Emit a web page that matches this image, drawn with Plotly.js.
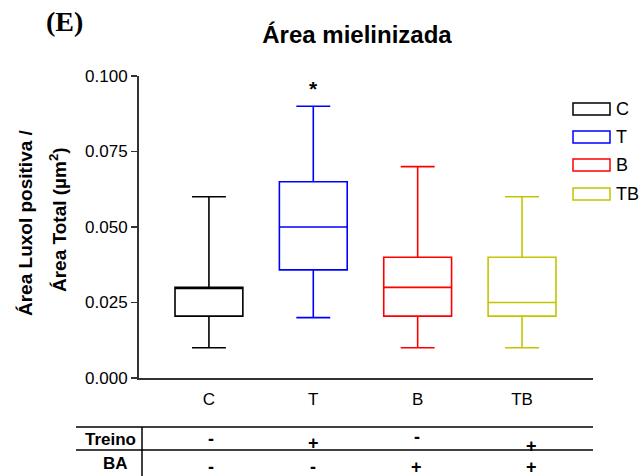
<!DOCTYPE html>
<html>
<head>
<meta charset="utf-8">
<script src="https://cdn.plot.ly/plotly-3.0.1.min.js"></script>
<style>html,body{margin:0;padding:0;background:#fff;}#chart{width:643px;height:476px;}</style>
</head>
<body>
<div id="chart"></div>
<script>
// ---- data ----
var groups = ["C", "T", "B", "TB"];
var colors = ["#000000", "#0000FF", "#FF0000", "#C4C400"];
var lowerWhisker = [0.010, 0.020, 0.010, 0.010];
var q1 = [0.0205, 0.0358, 0.0205, 0.0205];
var median = [0.030, 0.050, 0.030, 0.025];
var q3 = [0.030, 0.065, 0.040, 0.040];
var upperWhisker = [0.060, 0.090, 0.070, 0.060];
var treinoRow = ["-", "+", "-", "+"];
var baRow = ["-", "-", "+", "+"];
var rowLabels = ["Treino", "BA"];
var yTicks = [0, 0.025, 0.05, 0.075, 0.1];

// ---- layout geometry (pixels) ----
var W = 643, H = 476;
var M = {l: 139, r: 50, t: 76, b: 98};
var PW = W - M.l - M.r, PH = H - M.t - M.b;
function px(x) { return (x - M.l) / PW; }
function py(y) { return (H - M.b - y) / PH; }

var font = "Liberation Sans, Arial, sans-serif";

var traces = groups.map(function (g, i) {
  return {
    type: "box",
    name: g,
    x: [i],
    q1: [q1[i]],
    median: [median[i]],
    q3: [q3[i]],
    lowerfence: [lowerWhisker[i]],
    upperfence: [upperWhisker[i]],
    width: 0.65,
    whiskerwidth: 0.5,
    line: {color: colors[i], width: 1.6},
    fillcolor: "rgba(0,0,0,0)",
    showlegend: false,
    hoverinfo: "skip"
  };
});

var shapes = [];
var annotations = [];

// legend
var legY = [109, 137, 165, 194];
groups.forEach(function (g, i) {
  shapes.push({type: "rect", xref: "paper", yref: "paper",
    x0: px(573), x1: px(610), y0: py(legY[i] + 6), y1: py(legY[i] - 6),
    line: {color: colors[i], width: 1.5}, fillcolor: "rgba(0,0,0,0)"});
  annotations.push({xref: "paper", yref: "paper", x: px(614), y: py(legY[i]),
    xanchor: "left", yanchor: "middle", text: g, showarrow: false,
    font: {family: font, size: 18, color: "#000"}});
});

// significance marker
annotations.push({xref: "x", yref: "y", x: 1, y: upperWhisker[1], yshift: 18,
  text: "<b>*</b>", showarrow: false, font: {family: font, size: 21, color: "#000"}});

// panel label
annotations.push({xref: "paper", yref: "paper", x: px(44), y: py(22), xanchor: "left", yanchor: "middle",
  text: "<b>(E)</b>", showarrow: false, font: {family: "Liberation Serif, Times New Roman, serif", size: 28, color: "#000"}});

// y-axis title (two lines)
annotations.push({xref: "paper", yref: "paper", x: px(25), y: py(223), textangle: -90,
  text: "<b>Área Luxol positiva /</b>", showarrow: false, xanchor: "center", yanchor: "middle",
  font: {family: font, size: 19, color: "#000"}});
annotations.push({xref: "paper", yref: "paper", x: px(58), y: py(220), textangle: -90,
  text: "<b>Área Total (µm<sup>2</sup>)</b>", showarrow: false, xanchor: "center", yanchor: "middle",
  font: {family: font, size: 19, color: "#000"}});

// table
shapes.push({type: "line", xref: "paper", yref: "paper", x0: px(76), x1: px(593), y0: py(427), y1: py(427), line: {color: "#000", width: 1.5}});
shapes.push({type: "line", xref: "paper", yref: "paper", x0: px(76), x1: px(593), y0: py(450), y1: py(450), line: {color: "#000", width: 1.5}});
shapes.push({type: "line", xref: "paper", yref: "paper", x0: px(142), x1: px(142), y0: py(427), y1: py(476), line: {color: "#000", width: 1.5}});
annotations.push({xref: "paper", yref: "paper", x: px(138), y: py(439), xanchor: "right", yanchor: "middle",
  text: "<b>" + rowLabels[0] + "</b>", showarrow: false, font: {family: font, size: 17, color: "#000"}});
annotations.push({xref: "paper", yref: "paper", x: px(115), y: py(464), xanchor: "center", yanchor: "middle",
  text: "<b>" + rowLabels[1] + "</b>", showarrow: false, font: {family: font, size: 17, color: "#000"}});
var signShift = [2, 0, -1, 9];
var row1Y = [439, 443, 437, 446];
groups.forEach(function (g, i) {
  annotations.push({xref: "x", yref: "paper", x: i, xshift: signShift[i], y: py(row1Y[i]), yanchor: "middle",
    text: "<b>" + treinoRow[i] + "</b>", showarrow: false, font: {family: font, size: 18, color: "#000"}});
  annotations.push({xref: "x", yref: "paper", x: i, xshift: signShift[i], y: py(467), yanchor: "middle",
    text: "<b>" + baRow[i] + "</b>", showarrow: false, font: {family: font, size: 18, color: "#000"}});
});

var layout = {
  width: W, height: H,
  margin: M,
  paper_bgcolor: "#fff", plot_bgcolor: "#fff",
  font: {family: font, color: "#000"},
  title: {text: "<b>Área mielinizada</b>", font: {family: font, size: 24, color: "#000"},
    xref: "paper", x: px(357), xanchor: "center", yref: "container", y: 1 - 35 / H, yanchor: "middle"},
  xaxis: {
    range: [-0.67, 3.68], tickmode: "array", tickvals: [0, 1, 2, 3], ticktext: groups,
    showline: true, linecolor: "#333", linewidth: 2, ticks: "", showgrid: false, zeroline: false,
    tickfont: {family: font, size: 17, color: "#000"}, ticklabelstandoff: 5, fixedrange: true
  },
  yaxis: {
    range: [0, 0.1], tickmode: "array", tickvals: yTicks, tickformat: ".3f",
    showline: true, linecolor: "#333", linewidth: 2, ticks: "outside", ticklen: 6, tickwidth: 1.5, tickcolor: "#333",
    showgrid: false, zeroline: false,
    tickfont: {family: font, size: 17, color: "#000"}, fixedrange: true
  },
  shapes: shapes,
  annotations: annotations,
  showlegend: false
};

Plotly.newPlot("chart", traces, layout, {staticPlot: true, displayModeBar: false});
</script>
</body>
</html>
